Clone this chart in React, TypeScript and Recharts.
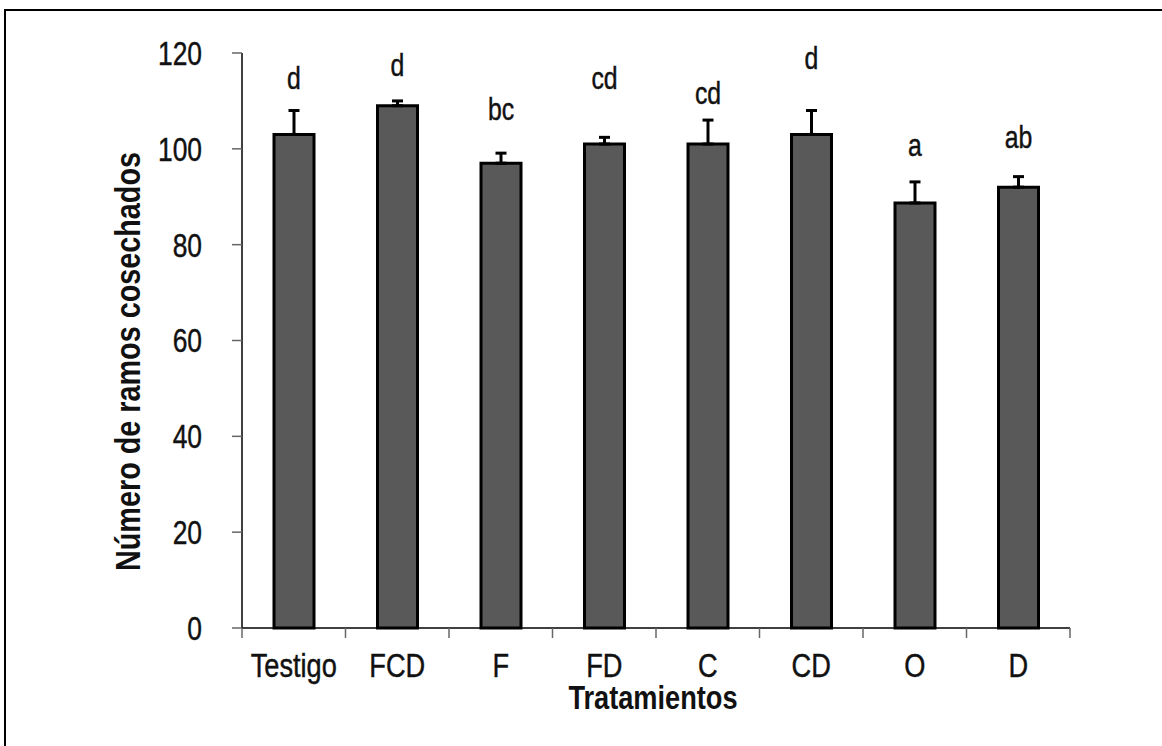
import { BarChart, Bar, XAxis, YAxis, ErrorBar, LabelList } from 'recharts'

const CATEGORIES = ['Testigo', 'FCD', 'F', 'FD', 'C', 'CD', 'O', 'D']
const RAMOS = [103, 109, 97, 101, 101, 103, 88.7, 92]
const ERROR_UP = [5, 1, 2.1, 1.4, 5, 5, 4.4, 2.2]
const LETTERS = ['d', 'd', 'bc', 'cd', 'cd', 'd', 'a', 'ab']
// baseline of each letter, in axis units
const LETTER_POS = [112.4, 115.2, 106, 112.4, 109.3, 116.7, 98.6, 100.2]
const Y_TICKS = [0, 20, 40, 60, 80, 100, 120]

const W = 1162
const H = 746
const FONT = "'Liberation Sans', Arial, sans-serif"
const NARROW = 0.8 // squeeze Liberation Sans toward a condensed face

const data = CATEGORIES.map((name, i) => ({
  name,
  value: RAMOS[i],
  err:   [0, ERROR_UP[i]],
}))

// narrow text drawn at (x, y)
// eslint-disable-next-line @typescript-eslint/no-explicit-any
function NText({ x, y, anchor = 'middle', size, bold = false, rotate = 0, children, dy }: any) {
  return (
    <text
      transform={`translate(${x} ${y}) rotate(${rotate}) scale(${NARROW} 1)`}
      textAnchor={anchor}
      fontFamily={FONT}
      fontSize={size}
      fontWeight={bold ? 'bold' : 'normal'}
      fill="#111"
      stroke={bold ? 'none' : '#111'}
      strokeWidth={0.45}
      dy={dy}
    >
      {children}
    </text>
  )
}

// eslint-disable-next-line @typescript-eslint/no-explicit-any
function CategoryTick({ x, y, payload, index }: any) {
  const half = payload?.offset ?? (W - 242 - 92) / CATEGORIES.length / 2
  const last = index === CATEGORIES.length - 1
  return (
    <g>
      <line x1={x - half} x2={x - half} y1={y} y2={y + 10} stroke="#666" strokeWidth={1.5} />
      {last && <line x1={x + half} x2={x + half} y1={y} y2={y + 10} stroke="#666" strokeWidth={1.5} />}
      <NText x={x} y={y + 49} size={34}>{payload.value}</NText>
    </g>
  )
}

// eslint-disable-next-line @typescript-eslint/no-explicit-any
function ValueTick({ x, y, payload }: any) {
  return <NText x={x} y={y} anchor="end" size={33} dy="0.36em">{payload.value}</NText>
}

// eslint-disable-next-line @typescript-eslint/no-explicit-any
function LetterLabel({ x, y, width, height, index }: any) {
  const perUnit = height / RAMOS[index]
  const base = y + height - LETTER_POS[index] * perUnit
  return <NText x={x + width / 2} y={base} size={31}>{LETTERS[index]}</NText>
}

export default function App() {
  return (
    <div style={{ position: 'fixed', left: 0, top: 0, width: W, height: H, background: '#fff', overflow: 'hidden' }}>
      <BarChart width={W} height={H} data={data} margin={{ top: 53, right: 92, bottom: 58, left: 0 }}>
        <XAxis
          dataKey="name"
          height={60}
          tickLine={false}
          tickSize={0}
          tickMargin={0}
          axisLine={{ stroke: '#000', strokeWidth: 1.5 }}
          tick={<CategoryTick />}
          interval={0}
          label={{
            content: ({ viewBox }: any) => (
              <NText x={viewBox.x + viewBox.width / 2 - 3} y={viewBox.y + 81} size={34} bold>
                Tratamientos
              </NText>
            ),
          }}
        />
        <YAxis
          width={242}
          domain={[0, 120]}
          ticks={Y_TICKS}
          interval={0}
          tickSize={10}
          tickMargin={30}
          tickLine={{ stroke: '#666', strokeWidth: 1.5 }}
          axisLine={{ stroke: '#000', strokeWidth: 1.5 }}
          tick={<ValueTick />}
          label={{
            content: ({ viewBox }: any) => (
              <NText x={140} y={viewBox.y + viewBox.height / 2 + 21} size={36} bold rotate={-90}>
                Número de ramos cosechados
              </NText>
            ),
          }}
        />
        <Bar dataKey="value" fill="#595959" stroke="#000" strokeWidth={3} barSize={40} isAnimationActive={false}>
          <ErrorBar dataKey="err" direction="y" width={5.5} stroke="#000" strokeWidth={3} isAnimationActive={false} />
          <LabelList dataKey="value" content={<LetterLabel />} />
        </Bar>
      </BarChart>
      <div style={{ position: 'absolute', zIndex: 2, left: 4, top: 9, width: W, height: 2, background: '#000' }} />
      <div style={{ position: 'absolute', zIndex: 2, left: 4, top: 9, width: 2, height: H, background: '#000' }} />
    </div>
  )
}
